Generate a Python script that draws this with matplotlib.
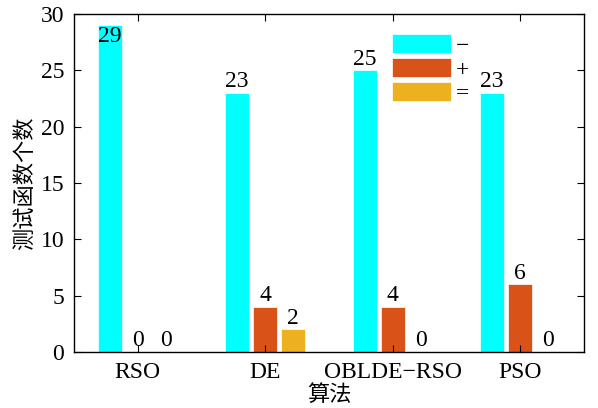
import numpy as np
import matplotlib
matplotlib.use("Agg")
import matplotlib.pyplot as plt

plt.rcParams['font.family'] = ['Liberation Serif', 'Noto Sans CJK SC']

algos = ['RSO', 'DE', 'OBLDE\u2212RSO', 'PSO']
minus = [29, 23, 25, 23]
plus = [0, 4, 4, 6]
equal = [0, 2, 0, 0]
series_labels = ['\u2212', '+', '=']
colors = ['#00FFFF', '#D95319', '#EDB120']

fs = 17

fig = plt.figure(figsize=(5.98, 4.08), dpi=100)
ax = fig.add_axes([74 / 598, 1 - 352 / 408, 510 / 598, 338 / 408])

x = np.arange(len(algos))
w = 0.19
off = 0.22
handles = []
for i, (vals, c) in enumerate(zip([minus, plus, equal], colors)):
    pos = x + (i - 1) * off
    b = ax.bar(pos, vals, w, color=c, edgecolor='white', linewidth=0.5)
    handles.append(b)
    for p, v in zip(pos, vals):
        if v >= 29:
            ax.text(p, v - 0.1, str(v), ha='center', va='top', fontsize=fs)
        else:
            ax.text(p, v + 0.05, str(v), ha='center', va='bottom', fontsize=fs)

ax.set_xlim(-0.5, 3.5)
ax.set_ylim(0, 30)
ax.set_xticks(x)
ax.set_xticklabels(algos)
ax.set_yticks(range(0, 31, 5))
ax.tick_params(direction='in', top=True, right=True, labelsize=fs, length=5)
ax.tick_params(axis='x', pad=7)
ax.tick_params(axis='y', pad=7)
for s in ax.spines.values():
    s.set_linewidth(1.0)

ax.set_ylabel('测试函数个数', fontsize=16, family=['Noto Sans CJK SC'], labelpad=3)
ax.set_xlabel('算法', fontsize=16, family=['Noto Sans CJK SC'], labelpad=0)

ax.legend(handles, series_labels, loc='upper left', bbox_to_anchor=(0.623, 0.94),
          frameon=False, fontsize=fs, handlelength=2.5, handleheight=0.85,
          labelspacing=0.05, handletextpad=0.2, borderaxespad=0, borderpad=0)

fig.savefig('out.png', dpi=100)
